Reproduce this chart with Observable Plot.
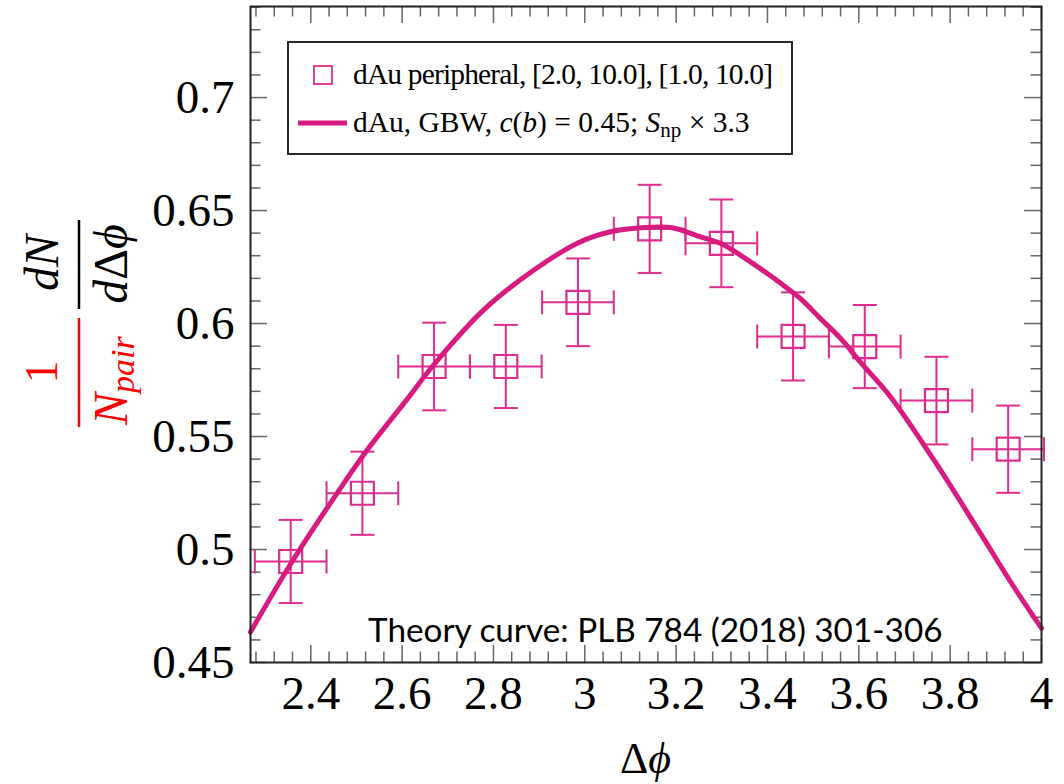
<!DOCTYPE html>
<html><head><meta charset="utf-8">
<script src="https://cdn.jsdelivr.net/npm/d3@7"></script>
<script src="https://cdn.jsdelivr.net/npm/@observablehq/plot@0.6"></script>
<style>body{margin:0;background:#fff}</style>
</head><body><div id="chart"></div>
<script>
// ---- data ----
const phiBins      = [2.356, 2.513, 2.670, 2.827, 2.985, 3.142, 3.299, 3.456, 3.613, 3.770, 3.927];
const yieldVals    = [0.4947, 0.5249, 0.5810, 0.5810, 0.6094, 0.6419, 0.6355, 0.5943, 0.5898, 0.5659, 0.5444];
const yieldErr     = [0.0184, 0.0184, 0.0194, 0.0184, 0.0194, 0.0195, 0.0194, 0.0195, 0.0184, 0.0194, 0.0193];
const phiHalfWidth = [0.0785, 0.0785, 0.0785, 0.0785, 0.0785, 0.0785, 0.0785, 0.0785, 0.0785, 0.0785, 0.0785];
const curvePhi  = [2.268, 2.363, 2.469, 2.527, 2.609, 2.671, 2.781, 2.891, 2.986, 3.052, 3.125, 3.191, 3.254, 3.298, 3.342, 3.385, 3.429, 3.473, 3.517, 3.561, 3.604, 3.670, 3.765, 3.867, 3.940, 4.000];
const curveVals = [0.4635, 0.4959, 0.5283, 0.5450, 0.5660, 0.5822, 0.6065, 0.6240, 0.6358, 0.6404, 0.6424, 0.6424, 0.6383, 0.6354, 0.6301, 0.6242, 0.6178, 0.6109, 0.6020, 0.5932, 0.5828, 0.5674, 0.5394, 0.5069, 0.4833, 0.4652];
const xTickVals = [2.4, 2.6, 2.8, 3.0, 3.2, 3.4, 3.6, 3.8, 4.0];
const yTickVals = [0.45, 0.5, 0.55, 0.6, 0.65, 0.7];
const xMinorTicks = d3.range(2.28, 4.0001, 0.04);
const yMinorTicks = d3.range(0.46, 0.7401, 0.01);
const legendLabels = ["dAu peripheral, [2.0, 10.0], [1.0, 10.0]", "dAu, GBW, c(b) = 0.45; Snp × 3.3"];
const theoryNote = "Theory curve: PLB 784 (2018) 301-306";

// ---- layout ----
const W = 1064, H = 784, mL = 250, mR = 23, mT = 6, mB = 122;
const fw = W - mL - mR, fh = H - mT - mB;
const curveColor = "#d81b80", markColor = "#de2d8f", tickColor = "#666";

const pts = phiBins.map((x, i) => ({x, y: yieldVals[i], e: yieldErr[i], w: phiHalfWidth[i]}));
const curve = curvePhi.map((x, i) => ({x, y: curveVals[i]}));
const capH = {draw(ctx) { ctx.moveTo(-12, 0); ctx.lineTo(12, 0); }};
const capV = {draw(ctx) { ctx.moveTo(0, -12); ctx.lineTo(0, 12); }};
const sq = {draw(ctx) { ctx.moveTo(-11.5, -11.5); ctx.lineTo(11.5, -11.5); ctx.lineTo(11.5, 11.5); ctx.lineTo(-11.5, 11.5); ctx.closePath(); }};
const isMajorX = v => xTickVals.some(t => Math.abs(t - v) < 1e-6);
const isMajorY = v => yTickVals.some(t => Math.abs(t - v) < 1e-6);
const fmt = d => String(+d.toFixed(2));

const plot = Plot.plot({
  width: W, height: H,
  marginLeft: mL, marginRight: mR, marginTop: mT, marginBottom: mB,
  style: {fontFamily: "Liberation Serif", background: "#fff"},
  x: {domain: [2.268, 4.0]},
  y: {domain: [0.45, 0.7403]},
  marks: [
    // inward ticks on all four sides
    Plot.tickY(yMinorTicks.filter(v => !isMajorY(v)), {y: d => d, insetRight: fw - 10.5, stroke: tickColor, strokeWidth: 1.5}),
    Plot.tickY(yMinorTicks.filter(v => !isMajorY(v)), {y: d => d, insetLeft: fw - 10.5, stroke: tickColor, strokeWidth: 1.5}),
    Plot.tickY(yTickVals, {y: d => d, insetRight: fw - 17, stroke: tickColor, strokeWidth: 1.5}),
    Plot.tickY(yTickVals, {y: d => d, insetLeft: fw - 17, stroke: tickColor, strokeWidth: 1.5}),
    Plot.tickX(xMinorTicks.filter(v => !isMajorX(v)), {x: d => d, insetTop: fh - 10.5, stroke: tickColor, strokeWidth: 1.5}),
    Plot.tickX(xMinorTicks.filter(v => !isMajorX(v)), {x: d => d, insetBottom: fh - 10.5, stroke: tickColor, strokeWidth: 1.5}),
    Plot.tickX(xTickVals, {x: d => d, insetTop: fh - 17, stroke: tickColor, strokeWidth: 1.5}),
    Plot.tickX(xTickVals, {x: d => d, insetBottom: fh - 17, stroke: tickColor, strokeWidth: 1.5}),
    // error bars
    Plot.ruleX(pts, {x: "x", y1: d => d.y - d.e, y2: d => d.y + d.e, stroke: markColor, strokeWidth: 2}),
    Plot.ruleY(pts, {y: "y", x1: d => d.x - d.w, x2: d => d.x + d.w, stroke: markColor, strokeWidth: 2}),
    Plot.dot(pts, {x: "x", y: d => d.y - d.e, symbol: capH, r: 5, fill: "none", stroke: markColor, strokeWidth: 2}),
    Plot.dot(pts, {x: "x", y: d => d.y + d.e, symbol: capH, r: 5, fill: "none", stroke: markColor, strokeWidth: 2}),
    Plot.dot(pts, {x: d => d.x - d.w, y: "y", symbol: capV, r: 5, fill: "none", stroke: markColor, strokeWidth: 2}),
    Plot.dot(pts, {x: d => d.x + d.w, y: "y", symbol: capV, r: 5, fill: "none", stroke: markColor, strokeWidth: 2}),
    Plot.dot(pts, {x: "x", y: "y", symbol: sq, r: 5, fill: "none", stroke: markColor, strokeWidth: 2.2}),
    // theory curve
    Plot.line(curve, {x: "x", y: "y", stroke: curveColor, strokeWidth: 5, curve: "catmull-rom"}),
    Plot.frame({stroke: "#222", strokeWidth: 2}),
    Plot.axisX({ticks: xTickVals, tickFormat: fmt, tickSize: 0, tickPadding: 13, fontSize: 47, label: null}),
    Plot.axisY({ticks: yTickVals, tickFormat: fmt, tickSize: 0, tickPadding: 16, fontSize: 47, label: null})
  ]
});
document.getElementById("chart").appendChild(plot);

// ---- overlay text: labels, legend, note ----
const svg = d3.select(plot);
const ov = svg.append("g").attr("font-family", "Liberation Serif, DejaVu Serif").attr("text-anchor", "start");

// x axis label Δϕ
const xl = ov.append("text").attr("x", mL + fw / 2).attr("y", 773).attr("text-anchor", "middle").attr("font-size", 44).attr("fill", "#000");
xl.append("tspan").text("Δ");
xl.append("tspan").attr("font-style", "italic").text("ϕ");

// y axis label: (1 / N_pair) (dN / dΔϕ), rotated
const yl = ov.append("g").attr("transform", "translate(79,0) rotate(-90)");
yl.append("line").attr("x1", -427).attr("x2", -318).attr("y1", 0).attr("y2", 0).attr("stroke", "#ff0000").attr("stroke-width", 2.5);
yl.append("text").attr("x", -372).attr("y", -22).attr("text-anchor", "middle").attr("font-size", 46).attr("fill", "#ff0000").text("1");
const np = yl.append("text").attr("x", -425).attr("y", 48).attr("text-anchor", "start").attr("font-size", 48).attr("fill", "#ff0000").attr("font-style", "italic");
np.append("tspan").text("N");
np.append("tspan").attr("font-size", 34).attr("dy", 7).text("pair");
yl.append("line").attr("x1", -309).attr("x2", -220).attr("y1", 0).attr("y2", 0).attr("stroke", "#000").attr("stroke-width", 2.5);
yl.append("text").attr("x", -263).attr("y", -21).attr("text-anchor", "middle").attr("font-size", 48).attr("fill", "#000").attr("font-style", "italic").text("dN");
const dd = yl.append("text").attr("x", -264).attr("y", 48).attr("text-anchor", "middle").attr("font-size", 48).attr("fill", "#000");
dd.append("tspan").attr("font-style", "italic").text("d");
dd.append("tspan").text("Δ");
dd.append("tspan").attr("font-style", "italic").text("ϕ");

// legend
const lg = ov.append("g");
lg.append("rect").attr("x", 288).attr("y", 42).attr("width", 504).attr("height", 112).attr("fill", "#fff").attr("stroke", "#111").attr("stroke-width", 1.8);
lg.append("rect").attr("x", 314).attr("y", 66).attr("width", 18).attr("height", 18).attr("fill", "none").attr("stroke", markColor).attr("stroke-width", 1.8);
lg.append("text").attr("x", 353).attr("y", 84).attr("font-size", 29.5).attr("fill", "#000")
  .attr("textLength", 420).attr("lengthAdjust", "spacing").text(legendLabels[0]);
lg.append("line").attr("x1", 298).attr("x2", 347).attr("y1", 123).attr("y2", 123).attr("stroke", curveColor).attr("stroke-width", 5);
const l2 = lg.append("text").attr("x", 353).attr("y", 132).attr("font-size", 29.5).attr("fill", "#000");
l2.append("tspan").text("dAu, GBW, ");
l2.append("tspan").attr("font-style", "italic").text("c");
l2.append("tspan").text("(");
l2.append("tspan").attr("font-style", "italic").text("b");
l2.append("tspan").text(") = 0.45; ");
l2.append("tspan").attr("font-style", "italic").text("S");
l2.append("tspan").attr("font-size", 21).attr("dy", 5).text("np");
l2.append("tspan").attr("dy", -5).text(" × 3.3");

// theory reference note
ov.append("text").attr("x", 368).attr("y", 642).attr("font-family", "Lato").attr("font-size", 33.3).attr("fill", "#000").text(theoryNote);
</script>
</body></html>
